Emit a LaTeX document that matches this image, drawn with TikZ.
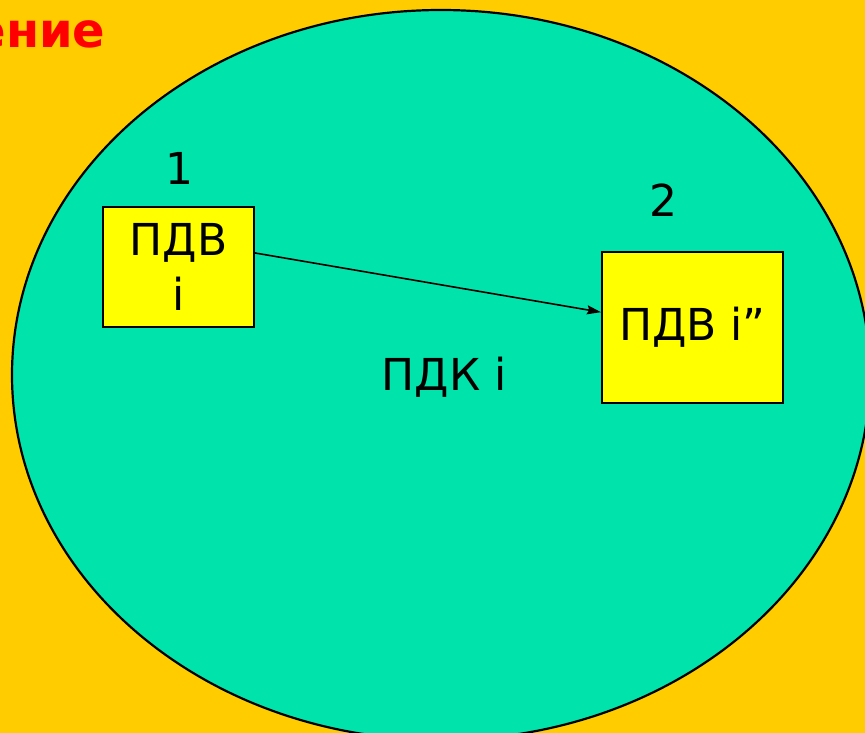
\documentclass[tikz,border=0pt]{standalone}
\usepackage{fontspec}
\setmainfont{DejaVu Sans}
\usetikzlibrary{positioning, shapes.geometric, arrows.meta, calc}
\definecolor{bgorange}{RGB}{255, 204, 0}
\definecolor{pdkgreen}{RGB}{0, 228, 171}
\definecolor{boxyellow}{RGB}{255, 255, 0}

\tikzset{
  pdvbox/.style={draw, line width=2pt, fill=boxyellow, inner sep=0pt, align=center,
    font=\fontsize{44}{55}\selectfont},
  numlabel/.style={font=\fontsize{44}{44}\selectfont}
}

\begin{document}
\begin{tikzpicture}[x=1pt, y=-1pt]
                
                \useasboundingbox (0,0) rectangle (865,733);
                \clip (0,0) rectangle (865,733);
                \fill[bgorange] (0,0) rectangle (865,733);
                \node[ellipse, draw, line width=2.2pt, fill=pdkgreen, inner sep=0pt,
                  minimum width=858pt, minimum height=730pt] (pdk) at (441,375) {};
                \node[anchor=base east, text=red, font=\bfseries\fontsize{48}{48}\selectfont] (title) at (109,48) {ение};
                \node[pdvbox, minimum width=151pt, minimum height=120pt] (pdv1) at (178.5,267) {ПДВ\\i};
                \node[pdvbox, minimum width=181pt, minimum height=151pt] (pdv2) at (692.5,327.5) {ПДВ i”};
                \node[numlabel] (num1) at (179,168) {1};
                \node[numlabel] (num2) at (663,200) {2};
                \node[font=\fontsize{44}{44}\selectfont] (pdklabel) at (444,377) {ПДК i};
                \draw[-{Stealth[length=14pt, width=9pt, inset=2pt]}, line width=1.6pt]
                  ($(pdv1.north east)!0.385!(pdv1.south east)$) -- ($(pdv2.north west)!0.4!(pdv2.south west)$);
            \end{tikzpicture}
\end{document}
